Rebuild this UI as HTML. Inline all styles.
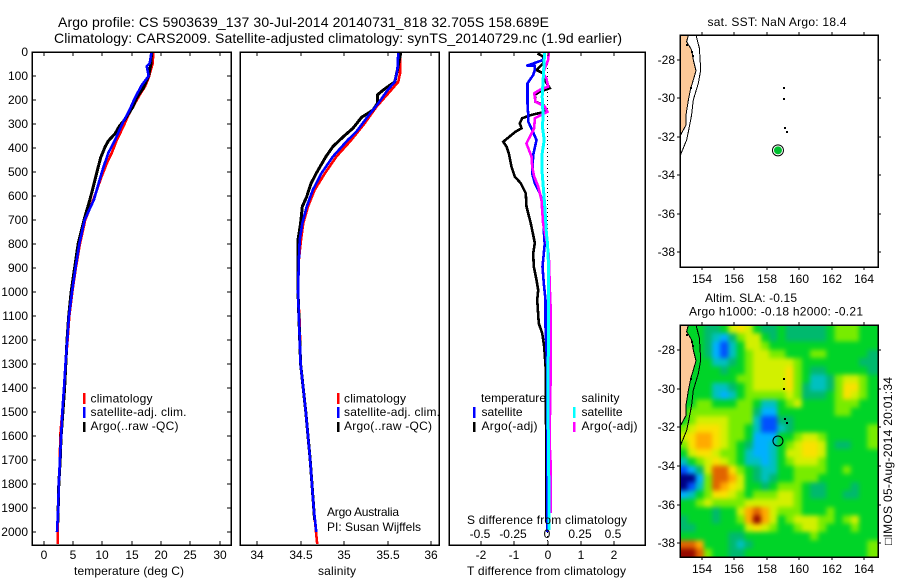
<!DOCTYPE html>
<html>
<head>
<meta charset="utf-8">
<title>Argo profile chart</title>
<style>
html,body{margin:0;padding:0;background:#fff;width:900px;height:580px;overflow:hidden}
svg{display:block}
text{font-family:"Liberation Sans",sans-serif;font-size:12px;fill:#000}
.t14{font-size:14px}
.frame{fill:none;stroke:#000;stroke-width:1.5;shape-rendering:crispEdges}
</style>
</head>
<body>
<svg id="chart" xmlns="http://www.w3.org/2000/svg" width="900" height="580" viewBox="0 0 900 580">
  <defs>
    <clipPath id="clip-map-top"><rect x="680" y="35" width="198" height="232"/></clipPath>
    <clipPath id="clip-map-bottom"><rect x="680" y="325" width="198" height="232"/></clipPath>
    <filter id="sla-smooth" filterUnits="userSpaceOnUse" x="640" y="285" width="280" height="312" color-interpolation-filters="sRGB">
      <feGaussianBlur stdDeviation="2.5"/>
    </filter>
  </defs>

  <text class="t14" x="58" y="27" textLength="491">Argo profile: CS 5903639_137 30-Jul-2014 20140731_818 32.705S 158.689E</text>
  <text class="t14" x="54" y="43" textLength="568">Climatology: CARS2009. Satellite-adjusted climatology: synTS_20140729.nc (1.9d earlier)</text>

  <g id="panel-temp"></g>
  <g id="panel-sal"></g>
  <g id="panel-diff"></g>
  <g id="map-top" clip-path="url(#clip-map-top)"></g>
  <g id="map-bottom" clip-path="url(#clip-map-bottom)">
    <g id="sla-cells" filter="url(#sla-smooth)"></g>
  </g>
  <g id="axes"></g>

  <rect class="frame" x="32" y="52" width="199" height="493"/>
  <rect class="frame" x="240" y="52" width="199" height="493"/>
  <rect class="frame" x="449" y="52" width="196" height="493"/>
  <rect class="frame" x="680" y="35" width="198" height="232"/>
  <rect class="frame" x="680" y="325" width="198" height="232"/>

  <text x="74" y="575" textLength="110">temperature (deg C)</text>
  <text x="318" y="575" textLength="38">salinity</text>
  <text x="467" y="575" textLength="159">T difference from climatology</text>
  <text x="467" y="524" textLength="160">S difference from climatology</text>

  <g>
    <rect x="83" y="393" width="2.5" height="11" fill="#f00"/>
    <rect x="83" y="407" width="2.5" height="11" fill="#00f"/>
    <rect x="83" y="422" width="2.5" height="10" fill="#000"/>
    <text x="90.5" y="402.5" textLength="62">climatology</text>
    <text x="90.5" y="416" textLength="96">satellite-adj. clim.</text>
    <text x="90.5" y="430" textLength="88">Argo(..raw -QC)</text>
  </g>
  <g>
    <rect x="337" y="393" width="2.5" height="11" fill="#f00"/>
    <rect x="337" y="407" width="2.5" height="11" fill="#00f"/>
    <rect x="337" y="422" width="2.5" height="10" fill="#000"/>
    <text x="344" y="402.5" textLength="62">climatology</text>
    <text x="344" y="416" textLength="96">satellite-adj. clim.</text>
    <text x="344" y="430" textLength="88">Argo(..raw -QC)</text>
  </g>
  <g>
    <text x="481" y="402" textLength="65">temperature</text>
    <text x="481.5" y="416" textLength="41">satellite</text>
    <text x="481.5" y="430" textLength="56">Argo(-adj)</text>
    <text x="581.5" y="402" textLength="38">salinity</text>
    <text x="581.5" y="416" textLength="41">satellite</text>
    <text x="581.5" y="430" textLength="56">Argo(-adj)</text>
    <rect x="473" y="407" width="2.5" height="11" fill="#00f"/>
    <rect x="473" y="422" width="2.5" height="10" fill="#000"/>
    <rect x="573" y="407" width="2.5" height="11" fill="#0ff"/>
    <rect x="573" y="422" width="2.5" height="10" fill="#f0f"/>
  </g>

  <text x="327" y="516" textLength="72">Argo Australia</text>
  <text x="327" y="531" textLength="94">PI: Susan Wijffels</text>

  <text x="707.5" y="26" textLength="139">sat. SST: NaN Argo: 18.4</text>
  <text x="705" y="302" textLength="92">Altim. SLA: -0.15</text>
  <text x="689" y="315.5" textLength="174">Argo h1000: -0.18 h2000: -0.21</text>
  <text transform="translate(892,545) rotate(-90)" textLength="168" style="font-family:'Liberation Sans','DejaVu Sans',sans-serif">□IMOS 05-Aug-2014 20:01:34</text>
</svg>

<script>
// ---- temperature profiles ----
const tempClimDepth = [0,47,108,143,178,226,261,311,366,422,463,519,574,615,700,800,900,1000,1100,1200,1300,1400,1500,1600,1700,1800,1900,2000,2050];
const tempClimValue = [18.7,18.6,17.9,17.3,16.4,15.3,14.5,13.6,12.5,11.6,10.8,9.9,9.1,8.5,7.1,6.2,5.5,4.9,4.4,4.1,3.75,3.5,3.2,2.85,2.8,2.6,2.5,2.4,2.4];
const tempSatDepth = [0,47,60,100,140,190,250,290,366,420,480,550,615,700,800,900,1000,1100,1200,1300,1400,1500,1600,1700,1800,1900,2000];
const tempSatValue = [18.4,18.1,17.6,17.9,16.7,15.6,14.5,13.6,12.2,11.05,10.2,9.35,8.6,7.0,6.1,5.45,4.85,4.35,4.05,3.75,3.5,3.2,3.0,2.8,2.6,2.5,2.3];
const tempArgoDepth = [0,50,100,150,190,230,280,310,340,370,395,440,500,560,615,700,800,900,1000,1100,1200,1300,1400,1500,1600,1700,1800,1900,1960];
const tempArgoValue = [18.4,18.3,17.9,17,15.9,15.2,13.9,12.9,12.2,11.05,10.5,9.75,9.1,8.5,7.9,6.9,5.9,5.3,4.7,4.3,4.0,3.8,3.6,3.3,3.0,2.85,2.6,2.5,2.5];

// ---- salinity profiles ----
const salClimDepth = [0,89,124,158,228,297,367,436,505,575,644,714,783,864,1000,1130,1300,1500,1700,1900,2050];
const salClimValue = [35.64,35.64,35.62,35.54,35.37,35.235,35.08,34.91,34.78,34.66,34.585,34.53,34.505,34.48,34.47,34.49,34.5,34.56,34.61,34.65,34.69];
const salSatDepth = [0,75,124,158,214,269,332,367,436,505,575,644,714,783,864,1000,1300,1500,1700,1900,2000];
const salSatValue = [35.62,35.61,35.58,35.5,35.39,35.27,35.14,35.04,34.87,34.74,34.64,34.57,34.52,34.49,34.48,34.47,34.5,34.56,34.61,34.65,34.68];
const salArgoDepth = [0,75,124,158,179,214,242,272,318,353,394,436,505,547,603,644,714,783,850,1000,1300,1500,1700,1950];
const salArgoValue = [35.65,35.61,35.58,35.45,35.38,35.38,35.33,35.2,35.1,34.99,34.87,34.79,34.68,34.62,34.57,34.52,34.5,34.47,34.47,34.47,34.5,34.56,34.61,34.66];

// ---- difference profiles ----
const diffTempArgoDepth = [6,19,47,75,89,117,151,165,179,207,221,249,262,276,297,318,332,374,394,422,478,519,547,589,644,714,783,797,839,894,950,992,1033,1131,1172,1228,1325,1950];
const diffTempArgoValue = [-0.30,-0.13,-0.13,-0.33,-0.13,-0.08,0.07,-0.23,-0.38,-0.36,-0.13,-0.08,-0.48,-0.76,-0.83,-0.78,-0.96,-1.33,-1.23,-1.16,-1.08,-0.98,-0.80,-0.65,-0.63,-0.50,-0.40,-0.38,-0.43,-0.41,-0.33,-0.28,-0.31,-0.26,-0.16,-0.10,-0.05,-0.03];
const diffTempSatDepth = [0,12,33,58,58,75,96,131,214,262,290,325,367,429,506,547,589,631,783,797,839,894,964,1033,1144,1311,2000];
const diffTempSatValue = [-0.08,-0.08,-0.13,-0.63,-0.38,-0.38,-0.43,-0.60,-0.60,-0.58,-0.58,-0.46,-0.33,-0.43,-0.46,-0.38,-0.23,-0.13,-0.10,-0.08,-0.11,-0.15,-0.11,-0.06,-0.06,-0.01,-0.01];
const diffSalArgoDepth = [0,33,75,89,110,144,158,172,207,228,249,276,318,381,436,478,519,561,617,714,783,846,1033,1075,1311,1620,1730,1920];
const diffSalArgoValue = [0.01,0.005,-0.025,-0.033,-0.008,0.005,-0.058,-0.10,-0.09,-0.02,0,-0.095,-0.10,-0.158,-0.12,-0.115,-0.10,-0.07,-0.045,-0.033,-0.008,0.01,0.02,0.025,0.025,0.015,0.025,0.025];
const diffSalSatDepth = [0,33,89,186,269,311,367,422,506,575,644,755,797,894,1033,1311,1436,1783,1992];
const diffSalSatValue = [-0.02,-0.025,-0.03,-0.04,-0.033,-0.038,-0.025,-0.04,-0.04,-0.03,-0.02,-0.008,0,0.008,0.008,0.005,0.003,0.01,0.013];

// ---- tick labels ----
const depthTicks = [0,100,200,300,400,500,600,700,800,900,1000,1100,1200,1300,1400,1500,1600,1700,1800,1900,2000];
const tempTicks = [0,5,10,15,20,25,30];
const salTicks = [34,34.5,35,35.5,36];
const salTickLabels = ["34","34.5","35","35.5","36"];
const diffTTicks = [-2,-1,0,1,2];
const diffTLabels = ["-2","-1","0","1","2"];
const diffSTicks = [-0.5,-0.25,0,0.25,0.5];
const diffSLabels = ["-0.5","-0.25","0","0.25","0.5"];
const lonTicks = [154,156,158,160,162,164];
const latTicks = [-28,-30,-32,-34,-36,-38];

// ---- map geography ----
const coastLon = [153.16,153.05,153.2,153.36,153.42,153.46,153.63,153.46,153.30,153.16,153.01,153.01,152.64];
const coastLat = [-26.70,-27.05,-27.25,-27.48,-27.75,-28.0,-28.56,-29.04,-29.48,-30.08,-30.86,-31.39,-31.96];
const isobathLon = [153.63,153.84,153.92,153.77,153.46,153.36,153.16,153.05,152.64];
const isobathLat = [-26.70,-27.39,-28.52,-29.22,-30.08,-30.86,-31.73,-32.17,-33.0];
const islandLon = [159.08,159.06,159.12,159.27,153.1,153.4,153.45,153.3];
const islandLat = [-29.48,-30.03,-31.56,-31.77,-27.2,-27.6,-27.8,-29.48];
const floatLon = 158.689;
const floatLat = -32.705;

// ---- SLA heatmap, colour level per cell, rows north to south ----
const slaLonStart = 152.6;
const slaLonStep = 0.5042;
const slaLatStart = -26.7;
const slaLatStep = 0.4286;
const slaRows = [
[5,5,5,4,4,5,7,8,7,5,4,4,5,4,4,4,4,4,5,6,6,6,5,5],
[5,5,5,4,3,2,4,6,7,7,5,4,5,4,4,4,4,4,5,6,6,6,5,5],
[5,5,5,4,2,1,3,5,7,7,6,5,5,5,5,5,5,5,5,5,5,5,5,5],
[5,5,5,4,2,1,3,5,6,7,7,6,6,5,5,5,6,6,5,5,5,5,5,4],
[5,5,5,5,3,3,4,5,6,7,7,7,7,7,6,5,5,5,5,5,5,5,4,4],
[5,5,5,5,5,4,5,5,6,7,7,7,7,8,6,5,4,4,5,5,5,5,5,4],
[5,5,5,5,5,5,5,6,6,7,7,7,7,8,6,5,3,3,4,6,7,7,6,5],
[5,5,5,5,3,3,4,5,6,7,7,7,7,8,6,4,3,3,4,6,8,8,6,5],
[5,5,5,5,3,2,3,5,6,6,6,6,6,7,6,4,4,4,5,6,8,7,6,5],
[5,5,6,6,5,5,5,6,6,5,3,3,5,6,7,5,5,5,5,6,6,6,5,5],
[5,6,6,6,6,6,6,6,6,4,2,2,5,5,5,5,5,5,5,6,6,5,5,5],
[5,6,7,7,7,7,6,6,6,3,1,1,4,4,5,5,5,5,5,5,5,5,5,5],
[6,7,8,8,8,7,6,6,5,3,1,1,3,4,5,5,5,5,5,5,5,5,5,6],
[7,8,9,9,8,7,6,6,5,2,2,2,5,5,6,7,7,6,5,5,5,5,5,6],
[6,8,9,9,8,7,6,5,4,2,2,3,5,6,7,8,8,7,5,4,4,5,5,6],
[5,7,8,8,7,6,6,5,3,2,2,3,5,7,7,8,8,7,5,5,5,5,5,5],
[3,5,6,7,8,7,6,5,3,3,2,3,5,6,7,7,7,6,5,5,5,5,5,5],
[1,2,4,7,10,10,8,6,5,4,3,3,5,5,6,6,6,6,5,5,6,5,5,5],
[0,0,2,6,10,10,9,7,5,4,3,4,5,5,6,6,6,5,5,5,5,5,5,5],
[0,1,3,6,10,9,8,7,5,5,4,5,6,6,6,5,4,4,5,5,5,4,5,5],
[2,3,5,6,8,8,7,6,5,6,6,6,7,7,6,5,4,4,5,5,4,4,5,5],
[5,5,6,7,6,6,6,6,7,7,7,7,7,7,6,5,5,5,5,5,5,5,5,5],
[5,5,5,5,4,5,5,7,9,10,9,7,6,6,6,5,5,5,6,5,5,5,5,5],
[4,5,5,5,4,5,5,6,9,11,9,7,5,6,7,7,7,6,6,5,6,7,5,5],
[4,4,5,5,5,5,5,5,7,8,7,6,5,5,6,7,7,6,5,5,5,6,5,5],
[5,5,5,5,5,5,4,4,5,5,5,5,5,5,5,5,6,5,5,5,5,5,5,5],
[10,10,9,5,5,5,4,3,4,5,5,5,5,5,5,5,5,5,5,5,5,5,5,6],
[11,11,10,6,5,5,4,4,5,5,5,5,5,5,5,5,5,5,5,5,5,5,5,6]
];
const slaColors = ["#000082","#0050ff","#00b0ff","#00c0c0","#00b96e","#00d428","#78ec00","#d2f000","#fae100","#ffaa00","#e16400","#960a00"];

// ---- scales ----
const NS = "http://www.w3.org/2000/svg";
function yDepth(d){ return 52 + 0.24 * d; }
function xTemp(t){ return 43.5 + 5.87 * t; }
function xSal(s){ return 257 + 87.2 * (s - 34); }
function xDiffT(t){ return 547.5 + 33.33 * t; }
function xDiffS(s){ return 547.5 + 133.3 * s; }
function xLon(lon){ return 702 + 16.2 * (lon - 154); }
function yLatTop(lat){ return 60 + 19.2 * (-lat - 28); }
function yLatBottom(lat){ return 350 + 19.33 * (-lat - 28); }

function make(tag, attrs, parent){
  const el = document.createElementNS(NS, tag);
  for (const k in attrs) el.setAttribute(k, attrs[k]);
  parent.appendChild(el);
  return el;
}
function pathFrom(xs, ys, fx, fy){
  return xs.map((v, i) => (i ? "L" : "M") + fx(v).toFixed(1) + " " + fy(ys[i]).toFixed(1)).join("");
}
function drawProfile(parent, depths, values, fx, color, width, name){
  const el = make("path", {d: pathFrom(values, depths, fx, yDepth), fill: "none", stroke: color, "stroke-width": width, "shape-rendering": "crispEdges"}, parent);
  
  
}

const gTemp = document.getElementById("panel-temp");
drawProfile(gTemp, tempClimDepth, tempClimValue, xTemp, "#f00", 2.6, "temperature-climatology-line");
drawProfile(gTemp, tempArgoDepth, tempArgoValue, xTemp, "#000", 3, "temperature-argo-line");
drawProfile(gTemp, tempSatDepth, tempSatValue, xTemp, "#00f", 2.6, "temperature-satellite-line");

const gSal = document.getElementById("panel-sal");
drawProfile(gSal, salClimDepth, salClimValue, xSal, "#f00", 2.6, "salinity-climatology-line");
drawProfile(gSal, salArgoDepth, salArgoValue, xSal, "#000", 3, "salinity-argo-line");
drawProfile(gSal, salSatDepth, salSatValue, xSal, "#00f", 2.6, "salinity-satellite-line");

const gDiff = document.getElementById("panel-diff");
const zeroLine = make("line", {x1: xDiffT(0), x2: xDiffT(0), y1: 52, y2: 545, stroke: "#000", "stroke-width": 1, "stroke-dasharray": "1 3", "shape-rendering": "crispEdges"}, gDiff);


drawProfile(gDiff, diffTempArgoDepth, diffTempArgoValue, xDiffT, "#000", 2.6, "t-difference-argo-line");
drawProfile(gDiff, diffTempSatDepth, diffTempSatValue, xDiffT, "#00f", 2.6, "t-difference-satellite-line");
drawProfile(gDiff, diffSalArgoDepth, diffSalArgoValue, xDiffS, "#f0f", 2.6, "s-difference-argo-line");
drawProfile(gDiff, diffSalSatDepth, diffSalSatValue, xDiffS, "#0ff", 3, "s-difference-satellite-line");

// ---- ticks ----
const gAxes = document.getElementById("axes");
function tick(x1, y1, x2, y2){
  const el = make("line", {x1, y1, x2, y2, stroke: "#000", "stroke-width": 1, "shape-rendering": "crispEdges"}, gAxes);
  
  
}
function label(x, y, str, anchor){
  const el = make("text", {x, y, "text-anchor": anchor}, gAxes);
  el.textContent = str;
  
  
}
depthTicks.forEach(d => {
  const y = Math.round(yDepth(d));
  tick(32, y, 36, y);
  tick(227, y, 231, y);
  label(28, y + 4, String(d), "end");
});
tempTicks.forEach(t => {
  const x = Math.round(xTemp(t));
  tick(x, 52, x, 56);
  tick(x, 541, x, 545);
  label(x, 559, String(t), "middle");
});
salTicks.forEach((s, i) => {
  const x = Math.round(xSal(s));
  tick(x, 52, x, 56);
  tick(x, 541, x, 545);
  label(x, 559, salTickLabels[i], "middle");
});
diffTTicks.forEach((t, i) => {
  const x = Math.round(xDiffT(t));
  tick(x, 52, x, 56);
  tick(x, 541, x, 545);
  label(x, 559, diffTLabels[i], "middle");
});
diffSTicks.forEach((s, i) => {
  label(Math.round(xDiffS(s)) - 1, 538, diffSLabels[i], "middle");
});
function mapTicks(top, bottom, fy, labelY){
  lonTicks.forEach(lon => {
    const x = Math.round(xLon(lon));
    tick(x, top - 3, x, top);
    tick(x, bottom, x, bottom + 3);
    label(x, labelY, String(lon), "middle");
  });
  latTicks.forEach(lat => {
    const y = Math.round(fy(lat));
    tick(677, y, 680, y);
    tick(878, y, 881, y);
    label(675, y + 4, String(lat), "end");
  });
}
mapTicks(35, 267, yLatTop, 283);
mapTicks(325, 557, yLatBottom, 573);

// ---- maps ----
function drawGeo(parent, fy){
  const land = make("path", {d: pathFrom(coastLon, coastLat, xLon, fy) + "L" + xLon(152) + " " + fy(-31.96) + "L" + xLon(152) + " " + fy(-26) + "L" + xLon(153.16) + " " + fy(-26) + "Z", fill: "#fdc998", stroke: "none"}, parent);
  
  
  const coast = make("path", {d: pathFrom(coastLon, coastLat, xLon, fy), fill: "none", stroke: "#000", "stroke-width": 1, "shape-rendering": "crispEdges"}, parent);
  
  
  const iso = make("path", {d: pathFrom(isobathLon, isobathLat, xLon, fy), fill: "none", stroke: "#000", "stroke-width": 1, "shape-rendering": "crispEdges"}, parent);
  
  
  islandLon.forEach((lon, i) => {
    const isl = make("rect", {x: Math.round(xLon(lon) - 1), y: Math.round(fy(islandLat[i]) - 1), width: 2, height: 2, fill: "#000"}, parent);
    
    
  });
}
const gTop = document.getElementById("map-top");
drawGeo(gTop, yLatTop);
const floatTopRing = make("circle", {cx: xLon(floatLon), cy: yLatTop(floatLat), r: 5.5, fill: "#fff", stroke: "#000", "stroke-width": 1}, gTop);


const floatTop = make("circle", {cx: xLon(floatLon), cy: yLatTop(floatLat), r: 4, fill: "#00c030"}, gTop);



const gBottom = document.getElementById("map-bottom");
const gCells = document.getElementById("sla-cells");
const lastRow = slaRows.length - 1;
slaRows.forEach((row, j) => {
  row.forEach((level, i) => {
    // edge cells overhang the clipped map frame so the smoothing does not fade at the border
    const x0 = xLon(slaLonStart + i * slaLonStep) - (i === 0 ? 20 : 0);
    const x1 = xLon(slaLonStart + (i + 1) * slaLonStep) + (i === row.length - 1 ? 20 : 0);
    const y0 = yLatBottom(slaLatStart - j * slaLatStep) - (j === 0 ? 20 : 0);
    const y1 = yLatBottom(slaLatStart - (j + 1) * slaLatStep) + (j === lastRow ? 20 : 0);
    const cell = make("rect", {x: x0.toFixed(2), y: y0.toFixed(2), width: (x1 - x0 + 0.4).toFixed(2), height: (y1 - y0 + 0.4).toFixed(2), fill: slaColors[level]}, gCells);
    
    
  });
});
drawGeo(gBottom, yLatBottom);
const floatBottom = make("circle", {cx: xLon(floatLon), cy: yLatBottom(floatLat), r: 5, fill: "none", stroke: "#000", "stroke-width": 1}, gBottom);


</script>
</body>
</html>
